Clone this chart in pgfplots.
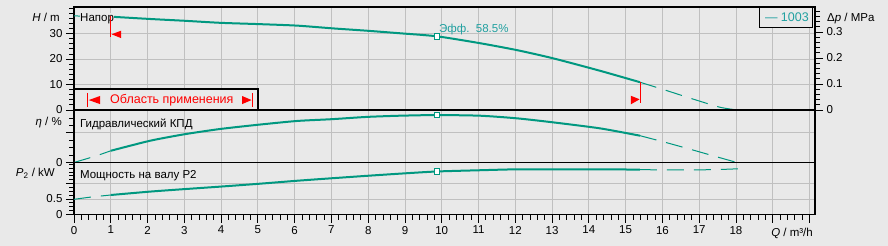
\documentclass[border=0pt]{standalone}
\usepackage{fontspec}
\setmainfont{Liberation Sans}
\usepackage{pgfplots}
\pgfplotsset{compat=1.18}
\definecolor{bg}{RGB}{233,233,233}
\definecolor{curve}{RGB}{0,152,128}
\definecolor{tealtxt}{RGB}{32,160,160}
\definecolor{gridc}{RGB}{192,192,192}
\pgfplotsset{
  panel/.style={scale only axis, width=741pt, xmin=0, xmax=20.15, anchor=south west,
    axis line style={black, line width=1.1pt},
    tick style={black, line width=0.8pt},
    major tick length=8pt, minor tick length=5pt, tick align=outside,
    grid style={gridc, line width=0.8pt},
    xtick={0,...,20}, xmajorgrids, ymajorgrids, ytick pos=left,
    tick label style={font=\fontsize{11.5}{13}\selectfont},
    /pgf/number format/assume math mode=true, clip=false},
  solidc/.style={curve, line width=2pt, smooth, tension=0.4},
  dashc/.style={curve, line width=1pt, smooth, tension=0.4, dash pattern=on 17pt off 10pt},
  bep/.style={only marks, mark=square*, mark size=2.8pt, mark options={fill=white, draw=curve, line width=1.2pt, solid}}
}
\begin{document}
\begin{tikzpicture}[x=1pt,y=1pt]
\fill[bg] (0,0) rectangle (888,246);
\useasboundingbox (0,0) rectangle (888,246);

% ---------- Head panel ----------
\begin{axis}[panel, at={(74pt,136pt)}, height=103pt, ymin=0, ymax=40.4,
  ytick={0,10,20,30}, minor ytick={2,4,...,40}, xticklabels={}, xtick style={draw=none}]
\addplot[dashc] coordinates {(0,36.9)(0.5,36.75)(1,36.6)};
\addplot[solidc] coordinates {(1,36.6)(2.07,35.7)(3,35.0)(3.97,34.2)(5,33.7)(6.06,33.1)(7.05,32.0)(7.96,31.1)(8.86,30.1)(9.87,28.9)(11.04,26.2)(12.04,23.5)(13.02,20.3)(14.3,15.4)(15.39,10.9)};
\addplot[dashc] coordinates {(15.39,10.9)(16.12,7.6)(16.83,4.3)(17.56,1.1)(18.03,0)};
\addplot[bep] coordinates {(9.87,28.9)};
\node[anchor=west, inner sep=0pt, text=tealtxt, font=\fontsize{11.5}{13}\selectfont, xshift=2pt, yshift=7pt] at (axis cs:9.87,28.9) {Эфф.\ \ 58.5\%};
\node[anchor=west, fill=bg, inner sep=0.5pt, font=\fontsize{11.5}{13}\selectfont] at (axis cs:0.15,35.7) {Напор};
% operating range limits
\addplot[red, line width=1pt] coordinates {(1,36.9)(1,28.5)};
\fill[red] (axis cs:1.02,29.7) -- (axis cs:1.28,31.1) -- (axis cs:1.28,28.2) -- cycle;
\addplot[red, line width=1pt] coordinates {(15.40,10.9)(15.40,2.6)};
\fill[red] (axis cs:15.38,4.2) -- (axis cs:15.14,5.6) -- (axis cs:15.14,2.2) -- cycle;
% box
\draw[black, line width=2pt, fill=bg] (axis cs:0,8.2) rectangle (axis cs:5.01,0);
\node[text=red, font=\fontsize{12.5}{14}\selectfont] at (axis cs:2.66,3.9) {Область применения};
\draw[red, line width=1pt] (axis cs:0.36,6.7) -- (axis cs:0.36,1.2);
\fill[red] (axis cs:0.40,3.9) -- (axis cs:0.71,5.5) -- (axis cs:0.71,2.3) -- cycle;
\fill[red] (axis cs:4.83,3.9) -- (axis cs:4.57,5.5) -- (axis cs:4.57,2.3) -- cycle;
\draw[red, line width=1pt] (axis cs:4.86,6.7) -- (axis cs:4.86,1.2);
\end{axis}

% ---------- Pressure (right) axis ----------
\begin{axis}[scale only axis, width=741pt, height=103pt, at={(74pt,136pt)}, anchor=south west,
  xmin=0, xmax=20.15, ymin=0, ymax=0.3962, axis y line*=right, axis x line=none,
  axis line style={black, line width=1.1pt}, tick style={black, line width=0.8pt},
  major tick length=8pt, minor tick length=5pt, tick align=outside,
  ytick={0,0.1,0.2,0.3}, yticklabels={0,0.1,0.2,0.3}, minor ytick={0.02,0.04,...,0.39},
  tick label style={font=\fontsize{11.5}{13}\selectfont}]
\addplot[draw=none] coordinates {(0,0)};
\end{axis}

% ---------- Efficiency panel ----------
\begin{axis}[panel, at={(74pt,83.5pt)}, height=52.5pt, ymin=0, ymax=70.7,
  ytick={0,40}, yticklabels={0,{}}, minor ytick={10,20,30,50,60,70},
  xticklabels={}, xtick style={draw=none}]
\addplot[dashc] coordinates {(0,0)(0.44,6.5)(0.75,11.4)(1,15.8)};
\addplot[solidc] coordinates {(1,15.8)(2.07,29.3)(3,38.0)(3.97,45.1)(5,50.8)(6.06,55.9)(7,58.3)(7.97,61.4)(8.86,63.0)(9.87,63.9)(11.04,63.0)(12.04,59.5)(13.02,54.1)(14.3,46.0)(15.39,36.1)};
\addplot[dashc] coordinates {(15.39,36.1)(16.12,26.6)(16.83,16.8)(17.56,6.5)(18.03,0)};
\addplot[bep] coordinates {(9.87,63.9)};
\node[anchor=west, inner sep=0pt, font=\fontsize{11.5}{13}\selectfont] at (axis cs:0.16,51.8) {Гидравлический КПД};
\end{axis}

% ---------- Power panel ----------
\begin{axis}[panel, at={(74pt,31.5pt)}, height=52pt, ymin=0, ymax=1.68,
  ytick={0,0.5,1}, yticklabels={0,0.5,{}}, minor ytick={0.125,0.25,...,1.63},
  xtick pos=bottom, minor x tick num=4,
  xticklabels={0,1,2,3,4,5,6,7,8,9,10,11,12,13,14,15,16,17,18,{},{}}]
\addplot[dashc] coordinates {(0,0.49)(0.44,0.56)(1,0.63)};
\addplot[solidc] coordinates {(1,0.63)(2.07,0.74)(3,0.82)(3.97,0.90)(5,0.99)(6.06,1.09)(7,1.17)(7.97,1.25)(9,1.33)(9.87,1.39)(11.04,1.43)(12.04,1.46)(13,1.46)(14.3,1.46)(15.39,1.45)};
\addplot[dashc] coordinates {(15.39,1.45)(16.12,1.44)(16.9,1.44)(17.7,1.46)(18.3,1.49)};
\addplot[bep] coordinates {(9.87,1.39)};
\node[anchor=west, inner sep=0pt, font=\fontsize{11.5}{13}\selectfont] at (axis cs:0.16,1.27) {Мощность на валу P2};
\end{axis}

% ---------- axis titles and legend ----------
\node[anchor=east, inner sep=0pt, font=\fontsize{11.5}{13}\selectfont] at (60,229) {\textit{H} / m};
\node[anchor=east, inner sep=0pt, font=\fontsize{11.5}{13}\selectfont] at (62,123.7) {\textit{η} / \%};
\node[anchor=east, inner sep=0pt, font=\fontsize{11.5}{13}\selectfont] at (55,72.7) {\textit{P}\textsubscript{2} / kW};
\node[anchor=west, inner sep=0pt, font=\fontsize{11.5}{13}\selectfont] at (827,227.7) {Δ\textit{p} / MPa};
\node[anchor=east, inner sep=0pt, font=\fontsize{11.5}{13}\selectfont] at (813,12.7) {\textit{Q} / m³/h};
\draw[black, line width=1pt, fill=bg] (759,218.7) rectangle (812,238.7);
\node[anchor=east, inner sep=0pt, text=tealtxt, font=\fontsize{12.5}{14}\selectfont] at (809,228.7) {— 1003};
\end{tikzpicture}
\end{document}
